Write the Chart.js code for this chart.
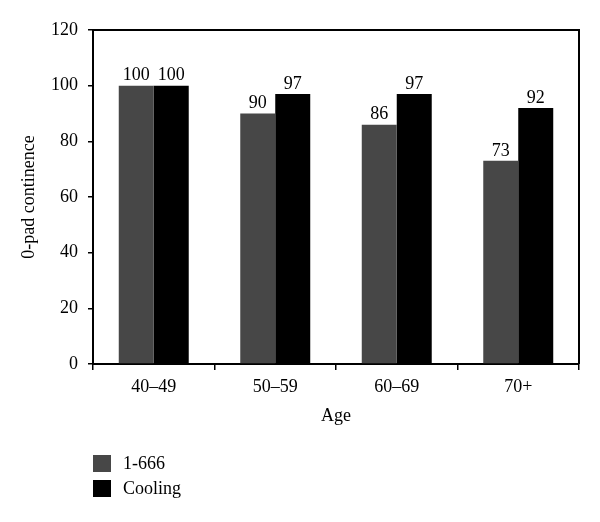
<!DOCTYPE html>
<html>
<head>
<meta charset="utf-8">
<script src="https://cdn.jsdelivr.net/npm/chart.js@4"></script>
<style>
  body { margin: 0; background: #fff; }
  #wrap { position: relative; width: 600px; height: 522px; }
  #legend { position: absolute; left: 93px; top: 451px; font-family: "Liberation Serif", serif; font-size: 18px; color: #000; }
  #legend .item { display: flex; align-items: center; height: 25px; }
  #legend .box { width: 18px; height: 17px; margin-right: 12px; }
</style>
</head>
<body>
<div id="wrap">
  <canvas id="ageChart" width="600" height="522"></canvas>
  <div id="legend"></div>
</div>
<script>
const ageGroups = ['40\u201349', '50\u201359', '60\u201369', '70+'];
const series1666 = [100, 90, 86, 73];
const seriesCooling = [100, 97, 97, 92];
const seriesNames = ['1-666', 'Cooling'];
const seriesColors = ['#474747', '#000000'];
const yTicks = [0, 20, 40, 60, 80, 100, 120];

const serif = '"Liberation Serif", serif';

// value labels above each bar
const barLabels = {
  id: 'barLabels',
  afterDatasetsDraw(chart) {
    const ctx = chart.ctx;
    ctx.save();
    ctx.font = '18px ' + serif;
    ctx.fillStyle = '#000';
    ctx.textAlign = 'center';
    ctx.textBaseline = 'bottom';
    chart.data.datasets.forEach((ds, di) => {
      chart.getDatasetMeta(di).data.forEach((bar, i) => {
        ctx.fillText(ds.data[i], bar.x, bar.y - 1);
      });
    });
    ctx.restore();
  }
};

// top and right edges of the plot box
const plotBox = {
  id: 'plotBox',
  afterDraw(chart) {
    const a = chart.chartArea;
    const ctx = chart.ctx;
    ctx.save();
    ctx.strokeStyle = '#000';
    ctx.lineWidth = 2;
    ctx.beginPath();
    ctx.moveTo(a.left, a.top);
    ctx.lineTo(a.right, a.top);
    ctx.lineTo(a.right, a.bottom);
    ctx.stroke();
    ctx.restore();
  }
};

new Chart(document.getElementById('ageChart'), {
  type: 'bar',
  data: {
    labels: ageGroups,
    datasets: [
      { label: seriesNames[0], data: series1666, backgroundColor: seriesColors[0] },
      { label: seriesNames[1], data: seriesCooling, backgroundColor: seriesColors[1] }
    ]
  },
  options: {
    responsive: false,
    animation: false,
    devicePixelRatio: 1,
    barPercentage: 1,
    categoryPercentage: 0.576,
    layout: { padding: { top: 30, right: 21, bottom: 91, left: 0 } },
    plugins: { legend: { display: false }, tooltip: { enabled: false } },
    scales: {
      x: {
        afterFit: s => { s.height = 67; },
        border: { color: '#000', width: 2 },
        grid: { offset: true, drawOnChartArea: false, drawTicks: true, tickLength: 6, color: '#000', lineWidth: 1.5 },
        ticks: { color: '#000', font: { family: serif, size: 18 }, padding: 6 },
        title: { display: true, text: 'Age', color: '#000', font: { family: serif, size: 18 } }
      },
      y: {
        min: 0,
        max: 120,
        afterFit: s => { s.width = 93; },
        afterBuildTicks: s => { s.ticks = yTicks.map(v => ({ value: v })); },
        border: { color: '#000', width: 2 },
        grid: { drawOnChartArea: false, drawTicks: true, tickLength: 5, color: '#000', lineWidth: 1.5 },
        ticks: { color: '#000', font: { family: serif, size: 18 }, padding: 10 },
        title: { display: true, text: '0-pad continence', color: '#000', font: { family: serif, size: 18 }, padding: { top: 18 } }
      }
    }
  },
  plugins: [barLabels, plotBox]
});

// legend below the chart, one item per row
const legend = document.getElementById('legend');
seriesNames.forEach((name, i) => {
  const item = document.createElement('div');
  item.className = 'item';
  const box = document.createElement('span');
  box.className = 'box';
  box.style.background = seriesColors[i];
  const txt = document.createElement('span');
  txt.textContent = name;
  item.appendChild(box);
  item.appendChild(txt);
  legend.appendChild(item);
});
</script>
</body>
</html>
